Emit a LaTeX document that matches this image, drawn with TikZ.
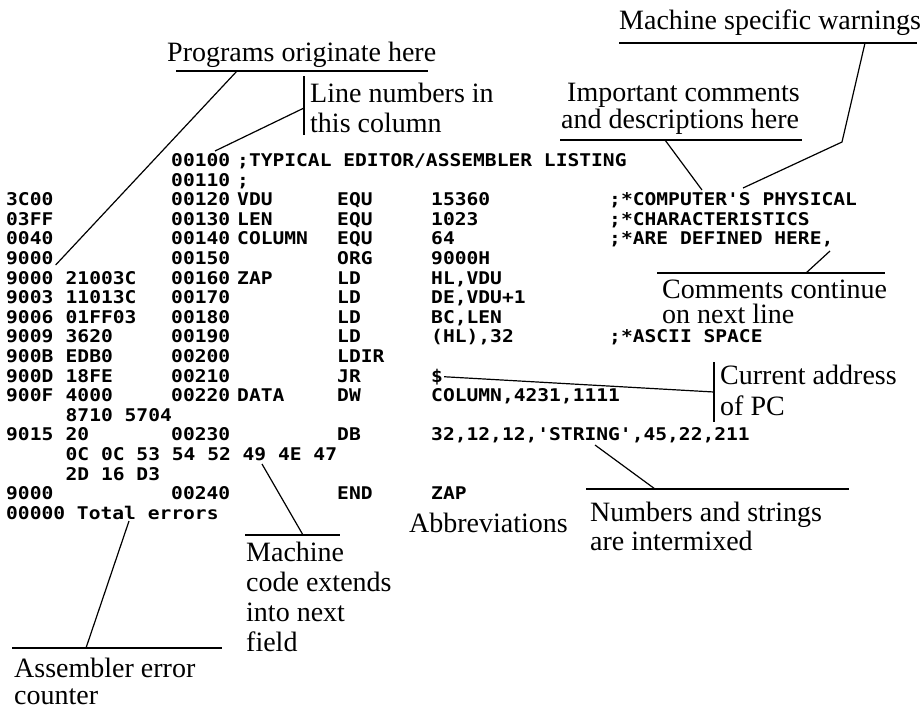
\documentclass[tikz,border=0pt]{standalone}
\usepackage{fontspec}
\setmainfont{Liberation Serif}
\newfontfamily\lstfont{DejaVu Sans Mono}[FakeStretch=1.12]
\newfontfamily\notefont{Liberation Serif}

\tikzset{
  lst/.style={font=\lstfont\bfseries\fontsize{17.5}{20}\selectfont, anchor=base west, inner sep=0pt},
  note/.style={font=\notefont\fontsize{28}{30}\selectfont, anchor=base west, inner sep=0pt},
  rule/.style={line width=1.6pt},
  lead/.style={line width=1.2pt},
}

% one listing row: name, row index, address, code, line no., label, opcode, operand, comment
\newcommand\lstrow[9]{%
  \node[lst] (#1a) at (6,{166.5+19.6*#2}) {#3};
  \node[lst] (#1c) at (65.5,{166.5+19.6*#2}) {#4};
  \node[lst] (#1n) at (171,{166.5+19.6*#2}) {#5};
  \node[lst] (#1l) at (237,{166.5+19.6*#2}) {#6};
  \node[lst] (#1o) at (337,{166.5+19.6*#2}) {#7};
  \node[lst] (#1v) at (431,{166.5+19.6*#2}) {#8};
  \node[lst] (#1k) at (609,{166.5+19.6*#2}) {#9};
}

\begin{document}
\begin{tikzpicture}[x=1pt,y=-1pt]
\useasboundingbox (0,0) rectangle (921,710);

% ---- the listing ----
\lstrow{r0}{0}{}{}{00100}{;TYPICAL EDITOR/ASSEMBLER LISTING}{}{}{}
\lstrow{r1}{1}{}{}{00110}{;}{}{}{}
\lstrow{r2}{2}{3C00}{}{00120}{VDU}{EQU}{15360}{;*COMPUTER'S PHYSICAL}
\lstrow{r3}{3}{03FF}{}{00130}{LEN}{EQU}{1023}{;*CHARACTERISTICS}
\lstrow{r4}{4}{0040}{}{00140}{COLUMN}{EQU}{64}{;*ARE DEFINED HERE,}
\lstrow{r5}{5}{9000}{}{00150}{}{ORG}{9000H}{}
\lstrow{r6}{6}{9000}{21003C}{00160}{ZAP}{LD}{HL,VDU}{}
\lstrow{r7}{7}{9003}{11013C}{00170}{}{LD}{DE,VDU+1}{}
\lstrow{r8}{8}{9006}{01FF03}{00180}{}{LD}{BC,LEN}{}
\lstrow{r9}{9}{9009}{3620}{00190}{}{LD}{(HL),32}{;*ASCII SPACE}
\lstrow{r10}{10}{900B}{EDB0}{00200}{}{LDIR}{}{}
\lstrow{r11}{11}{900D}{18FE}{00210}{}{JR}{\$}{}
\lstrow{r12}{12}{900F}{4000}{00220}{DATA}{DW}{COLUMN,4231,1111}{}
\lstrow{r13}{13}{}{8710 5704}{}{}{}{}{}
\lstrow{r14}{14}{9015}{20}{00230}{}{DB}{32,12,12,'STRING',45,22,211}{}
\lstrow{r15}{15}{}{0C 0C 53 54 52 49 4E 47}{}{}{}{}{}
\lstrow{r16}{16}{}{2D 16 D3}{}{}{}{}{}
\lstrow{r17}{17}{9000}{}{00240}{}{END}{ZAP}{}
\node[lst] (r18) at (6,{166.5+19.6*18}) {00000 Total errors};

% ---- notes ----
\node[note] (warn) at (619,29) {Machine specific warnings};
\coordinate (warnL) at (619,43); \coordinate (warnR) at (917,43);
\draw[rule] (warnL) -- (warnR);
\coordinate (warnT) at (865,43); \coordinate (warnK) at (842,142); \coordinate (warnE) at (743,188);
\draw[lead] (warnT) -- (warnK) -- (warnE);

\node[note] (prog) at (167,61) {Programs originate here};
\coordinate (progL) at (176,71); \coordinate (progR) at (428,71);
\draw[rule] (progL) -- (progR);
\coordinate (progT) at (237,71);
\draw[lead] (progT) -- ([xshift=2pt]r5a.south east);

\node[note] (ln1) at (310,102) {Line numbers in};
\node[note] (ln2) at (310,132) {this column};
\coordinate (lnTop) at (304,76); \coordinate (lnBot) at (304,135);
\draw[lead] (lnTop) -- (lnBot);
\coordinate (lnT) at (304,108); \coordinate (lnE) at (215,151);
\draw[lead] (lnT) -- (lnE);

\node[note] (imp1) at (567,101) {Important comments};
\node[note] (imp2) at (561,128) {and descriptions here};
\coordinate (impL) at (560,140); \coordinate (impR) at (802,140);
\draw[rule] (impL) -- (impR);
\coordinate (impT) at (665,140); \coordinate (impE) at (702,190);
\draw[lead] (impT) -- (impE);

\node[note] (cont1) at (662,298) {Comments continue};
\node[note] (cont2) at (662,323) {on next line};
\coordinate (contL) at (657,273); \coordinate (contR) at (885,273);
\draw[rule] (contL) -- (contR);
\coordinate (contT) at (806,273); \coordinate (contE) at (830,251);
\draw[lead] (contT) -- (contE);

\node[note] (pc1) at (720,384) {Current address};
\node[note] (pc2) at (720,415) {of PC};
\coordinate (pcTop) at (714,362); \coordinate (pcBot) at (714,422);
\draw[lead] (pcTop) -- (pcBot);
\coordinate (pcE) at (714,392);
\draw[lead] ([xshift=1pt]r11v.east) -- (pcE);

\node[note] (abbr) at (409,532) {Abbreviations};

\node[note] (num1) at (590,521) {Numbers and strings};
\node[note] (num2) at (590,550) {are intermixed};
\coordinate (numL) at (586,489); \coordinate (numR) at (849,489);
\draw[rule] (numL) -- (numR);
\coordinate (numT) at (655,489); \coordinate (numE) at (595,445);
\draw[lead] (numT) -- (numE);

\node[note] (mc1) at (246,561) {Machine};
\node[note] (mc2) at (246,591) {code extends};
\node[note] (mc3) at (246,621) {into next};
\node[note] (mc4) at (246,651) {field};
\coordinate (mcL) at (245,535); \coordinate (mcR) at (340,535);
\draw[rule] (mcL) -- (mcR);
\coordinate (mcT) at (303,535); \coordinate (mcE) at (262,464);
\draw[lead] (mcT) -- (mcE);

\node[note] (asm1) at (14,677) {Assembler error};
\node[note] (asm2) at (14,704) {counter};
\coordinate (asmL) at (12,648); \coordinate (asmR) at (222,648);
\draw[rule] (asmL) -- (asmR);
\coordinate (asmT) at (86,648); \coordinate (asmE) at (129,521);
\draw[lead] (asmT) -- (asmE);
\end{tikzpicture}
\end{document}
